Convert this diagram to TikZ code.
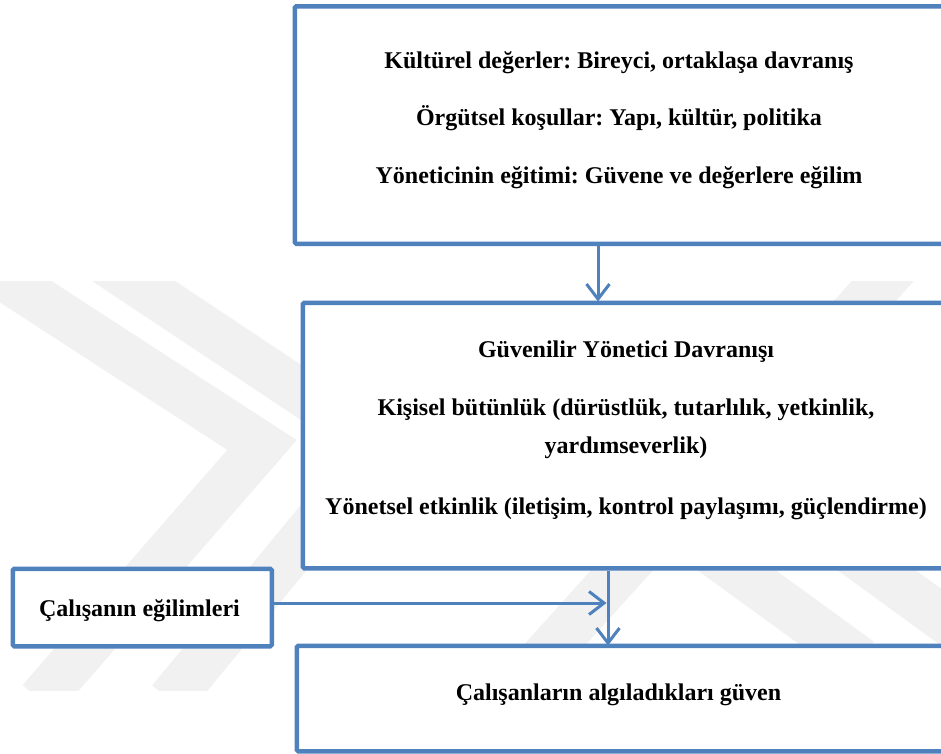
\documentclass[tikz,border=0pt]{standalone}
\usepackage{fontspec}
\setmainfont{Liberation Serif}
\usetikzlibrary{arrows.meta}
\definecolor{frameblue}{HTML}{4F81BD}
\definecolor{markgray}{HTML}{F1F1F1}
\tikzset{
  box/.style={draw=frameblue, line width=4.5pt, fill=white, rectangle,
    rounded corners=1.5pt, inner sep=0pt, anchor=north west},
  conn/.style={draw=frameblue, line width=3pt,
    -{Straight Barb[length=15pt, width=23pt, line width=3pt]}},
  label/.style={font=\bfseries\fontsize{24}{28}\selectfont, anchor=base,
    inner sep=0pt},
  band/.style={draw=markgray, line width=46pt, line cap=butt, line join=miter}
}
\frenchspacing
\begin{document}
\begin{tikzpicture}[x=1pt, y=-1pt]
  \clip (0,0) rectangle (941,753);
  \fill[white] (0,0) rectangle (941,753);

  % faint background emblem
  \begin{scope}
    \clip (0,281) rectangle (941,690);
    \draw[band] (-20,262) -- (262,445) -- (40,700);
    \draw[band] (105,262) -- (380,445) -- (170,700);
    \draw[band] (900,262) -- (505,700);
    \draw[band] (640,500) -- (860,660);
    \draw[band] (780,500) -- (1000,660);
  \end{scope}

  % boxes
  \node[box, minimum width=660pt, minimum height=237.5pt] (b1) at (292.5,4) {};
  \node[box, minimum width=650pt, minimum height=265.5pt] (b2) at (300.5,300.5) {};
  \node[box, minimum width=259pt, minimum height=77.5pt] (b3) at (10.5,566.5) {};
  \node[box, minimum width=660pt, minimum height=105.5pt] (b4) at (294.5,643.5) {};

  % texts
  \node[label] (t1) at (619,68) {Kültürel değerler: Bireyci, ortaklaşa davranış};
  \node[label] (t2) at (619,125) {Örgütsel koşullar: Yapı, kültür, politika};
  \node[label] (t3) at (619,183) {Yöneticinin eğitimi: Güvene ve değerlere eğilim};
  \node[label] (t4) at (626,357) {Güvenilir Yönetici Davranışı};
  \node[label] (t5) at (626,415) {Kişisel bütünlük (dürüstlük, tutarlılık, yetkinlik,};
  \node[label] (t6) at (626,453) {yardımseverlik)};
  \node[label] (t7) at (626,514) {Yönetsel etkinlik (iletişim, kontrol paylaşımı, güçlendirme)};
  \node[label] (t8) at (139.5,616) {Çalışanın eğilimleri};
  \node[label] (t9) at (618.5,700) {Çalışanların algıladıkları güven};

  % connectors
  \coordinate (x1) at (598,0);
  \coordinate (x2) at (608,0);
  \coordinate (y3) at (0,603);
  \draw[conn] (b1.south -| x1) -- ([yshift=-1pt]b2.north -| x1);
  \draw[conn] (b2.south -| x2) -- ([yshift=-2pt]b4.north -| x2);
  \draw[conn] (b3.east |- y3) -- ([xshift=-1.5pt]x2 |- y3);
\end{tikzpicture}
\end{document}
